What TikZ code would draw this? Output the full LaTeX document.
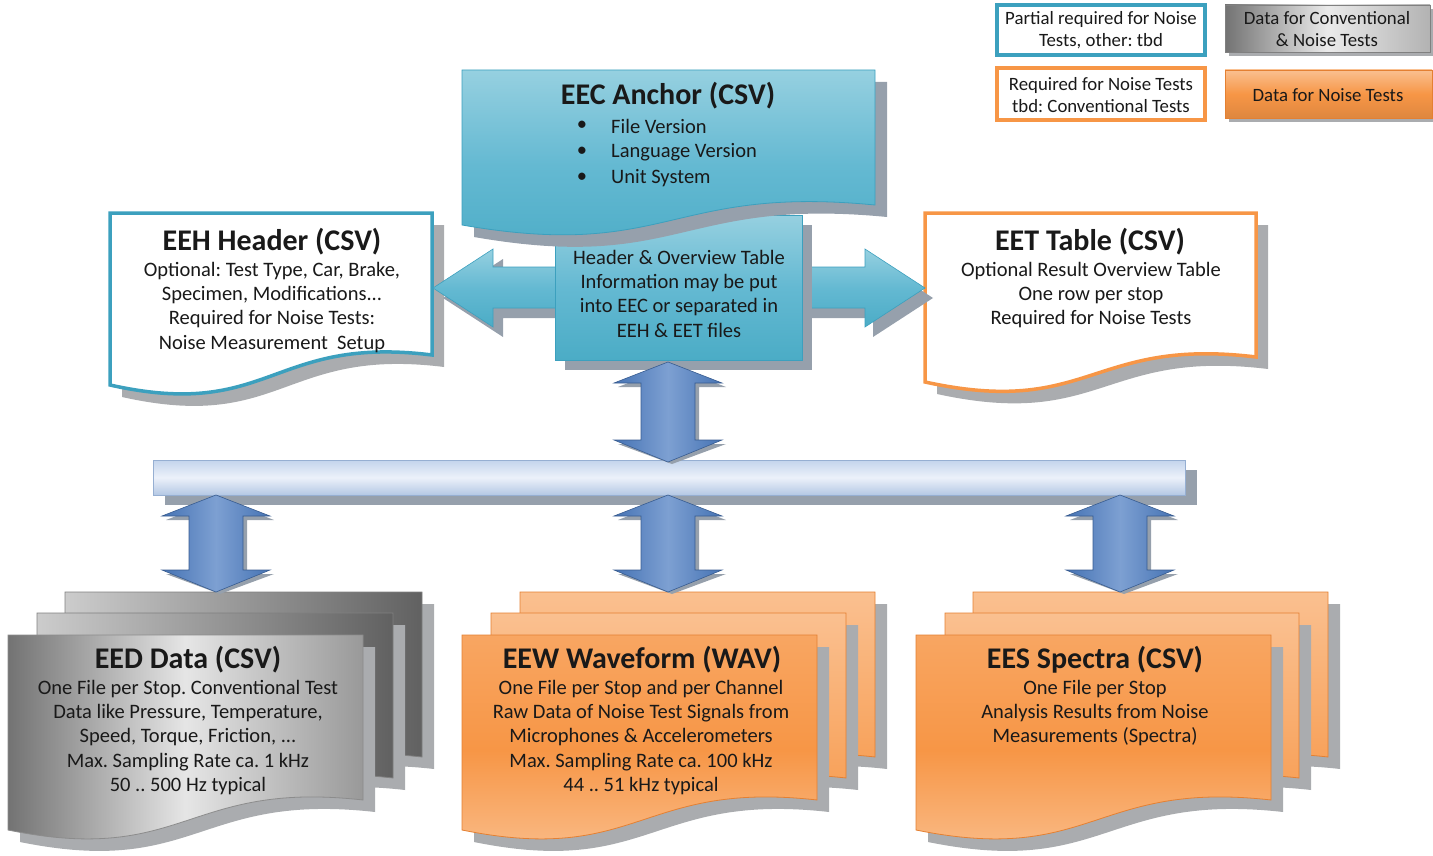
\documentclass[tikz,border=0pt]{standalone}
\usepackage{fontspec}
\setmainfont{Carlito}
\frenchspacing
\definecolor{teal0}{RGB}{75,172,198}
\definecolor{tealL}{RGB}{150,208,224}
\definecolor{tealM}{RGB}{100,185,210}
\definecolor{tealB}{RGB}{60,160,190}
\definecolor{orB}{RGB}{247,150,70}
\definecolor{orL}{RGB}{250,192,144}
\definecolor{orD}{RGB}{228,128,50}
\definecolor{blD}{RGB}{70,115,180}
\definecolor{blM}{RGB}{125,160,210}
\definecolor{shc}{RGB}{170,172,175}
\definecolor{shb}{RGB}{150,160,172}
\definecolor{barT}{RGB}{195,212,236}
\definecolor{barM}{RGB}{236,241,250}
\definecolor{barB}{RGB}{180,200,228}
\definecolor{barE}{RGB}{150,175,210}
\definecolor{txt}{RGB}{25,25,25}
\tikzset{
  tfont/.style={font=\fontsize{30}{34}\selectfont\bfseries, text=txt, inner sep=0pt},
  bfont/.style={font=\fontsize{20.5}{24.2}\selectfont, align=center, text=txt, inner sep=0pt},
  lfont/.style={font=\fontsize{18.8}{22}\selectfont, align=center, text=txt, inner sep=0pt},
  whiteteal/.style={fill=white, draw=tealB, line width=3.5pt},
  whiteorange/.style={fill=white, draw=orB, line width=3.5pt},
  tealfill/.style={top color=tealL, bottom color=teal0, middle color=tealM, draw=tealB, line width=0.8pt},
  grayfront/.style={left color=black!55, right color=black!40, middle color=black!10, draw=black!45, line width=0.8pt},
  grayback/.style={left color=black!20, right color=black!62, draw=black!50, line width=0.8pt},
  orfront/.style={top color=orB!85!white, bottom color=orL, middle color=orB, draw=orD, line width=0.8pt},
  orback/.style={top color=orL, bottom color=orB, draw=orD, line width=0.8pt},
  bluearrow/.style={left color=blD, right color=blD, middle color=blM, draw=blD!80!black, line width=0.6pt},
  tealarrow/.style={top color=tealL, bottom color=teal0, middle color=tealM, draw=tealB, line width=0.6pt},
}
% L T R Bl Br style shadowcolor
\newcommand\docshape[7]{%
  \fill[#7] ({#1+12},{#2+12}) -- ({#3+12},{#2+12}) -- ({#3+12},{#5+12}) .. controls ({(#1+#3)/2+12},{#5-20+12}) and ({(#1+#3)/2+12},{#4+36+12}) .. ({#1+12},{#4+12}) -- cycle;
  \path[#6] (#1,#2) -- (#3,#2) -- (#3,#5) .. controls ({(#1+#3)/2},{#5-20}) and ({(#1+#3)/2},{#4+36}) .. (#1,#4) -- cycle;}
% cx ytop ybot
\newcommand\vdarrow[3]{%
  \fill[shb] ({#1+4},{#2+4}) -- ({#1+54+4},{#2+21+4}) -- ({#1+27+4},{#2+21+4}) -- ({#1+27+4},{#3-22+4}) -- ({#1+54+4},{#3-22+4}) -- ({#1+4},{#3+2}) -- ({#1-54+4},{#3-22+4}) -- ({#1-27+4},{#3-22+4}) -- ({#1-27+4},{#2+21+4}) -- ({#1-54+4},{#2+21+4}) -- cycle;
  \path[bluearrow] (#1,#2) -- ({#1+54},{#2+21}) -- ({#1+27},{#2+21}) -- ({#1+27},{#3-22}) -- ({#1+54},{#3-22}) -- (#1,#3) -- ({#1-54},{#3-22}) -- ({#1-27},{#3-22}) -- ({#1-27},{#2+21}) -- ({#1-54},{#2+21}) -- cycle;}
\begin{document}
\begin{tikzpicture}[x=1pt,y=-1pt]
\useasboundingbox (0,0) rectangle (1433,856);

% ---------- legend ----------
\draw[tealB, line width=4pt, fill=white] (997,5) rectangle (1205,55);
\node[lfont] (lgA) at (1101,30) {Partial required for Noise\\Tests, other: tbd};
\fill[shc] (1229,9) rectangle (1434,56);
\path[left color=black!55, right color=black!30, middle color=black!8, draw=black!50] (1225,5) rectangle (1430,52);
\node[lfont] (lgB) at (1327,29) {Data for Conventional\\\& Noise Tests};
\draw[orB, line width=4pt, fill=white] (997,68) rectangle (1205,120);
\node[lfont] (lgC) at (1101,95) {Required for Noise Tests\\tbd: Conventional Tests};
\fill[shc] (1229,74) rectangle (1434,122);
\path[top color=orL, bottom color=orB!90!black, middle color=orB, draw=orD] (1225,70) rectangle (1432,118);
\node[lfont] (lgD) at (1328,95) {Data for Noise Tests};

% ---------- side documents ----------
\docshape{110}{213}{432}{385}{355}{whiteteal}{shc}
\node[tfont] (eehT) at (272,242) {EEH Header (CSV)};
\node[bfont, anchor=north] (eehB) at (272,262) {Optional: Test Type, Car, Brake,\\Specimen, Modifications...\\Required for Noise Tests:\\Noise Measurement\ \ Setup};

\docshape{925}{213}{1256}{382}{357}{whiteorange}{shc}
\node[tfont] (eetT) at (1090,242) {EET Table (CSV)};
\node[bfont, anchor=north] (eetB) at (1091,262) {Optional Result Overview Table\\One row per stop\\Required for Noise Tests};

% ---------- horizontal teal double arrow ----------
\fill[shb] (443,298) -- (503,259) -- (503,277) -- (873,277) -- (873,259) -- (933,298) -- (873,337) -- (873,318) -- (503,318) -- (503,337) -- cycle;
\path[tealarrow] (433,288) -- (493,249) -- (493,267) -- (865,267) -- (865,249) -- (925,288) -- (865,327) -- (865,308) -- (493,308) -- (493,327) -- cycle;

% ---------- central box ----------
\fill[shb] (565,225) rectangle (812,370);
\path[tealfill] (555,215) rectangle (802,360);
\node[bfont, anchor=north] (mid) at (679,250) {Header \& Overview Table\\Information may be put\\into EEC or separated in\\EEH \& EET files};

% ---------- EEC anchor ----------
\docshape{462}{70}{875}{225}{205}{tealfill}{shb}
\node[tfont] (eecT) at (668,96) {EEC Anchor (CSV)};
\foreach \yy/\tt [count=\i] in {126/File Version,152/Language Version,178/Unit System}{
  \node[bfont] (eecD\i) at (582,\yy) {•};
  \node[bfont, anchor=west] (eecL\i) at (611,\yy) {\tt};
}

% ---------- bar ----------
\fill[shb] (165,470) rectangle (1197,505);
\path[top color=barT, bottom color=barB, middle color=barM, draw=barE, line width=0.8pt] (153,460) rectangle (1185,495);
\coordinate (bar) at (669,477);

% ---------- bottom stacks ----------
% EED
\docshape{65}{592}{422}{787}{757}{grayback}{shc}
\docshape{37}{613}{393}{808}{778}{grayback}{shc}
\docshape{8}{635}{363}{830}{800}{grayfront}{shc}
\node[tfont] (eedT) at (188,660) {EED Data (CSV)};
\node[bfont, anchor=north] (eedB) at (188,680) {One File per Stop. Conventional Test\\Data like Pressure, Temperature,\\Speed, Torque, Friction, ...\\Max. Sampling Rate ca. 1 kHz\\50 .. 500 Hz typical};
% EEW
\docshape{520}{592}{875}{787}{757}{orback}{shc}
\docshape{491}{613}{846}{808}{778}{orback}{shc}
\docshape{462}{635}{817}{830}{800}{orfront}{shc}
\node[tfont] (eewT) at (642,660) {EEW Waveform (WAV)};
\node[bfont, anchor=north] (eewB) at (641,680) {One File per Stop and per Channel\\Raw Data of Noise Test Signals from\\Microphones \& Accelerometers\\Max. Sampling Rate ca. 100 kHz\\44 .. 51 kHz typical};
% EES
\docshape{973}{592}{1328}{787}{757}{orback}{shc}
\docshape{945}{613}{1299}{808}{778}{orback}{shc}
\docshape{916}{635}{1271}{830}{800}{orfront}{shc}
\node[tfont] (eesT) at (1095,660) {EES Spectra (CSV)};
\node[bfont, anchor=north] (eesB) at (1095,680) {One File per Stop\\Analysis Results from Noise\\Measurements (Spectra)};

% ---------- vertical blue double arrows ----------
\vdarrow{668}{362}{462}
\vdarrow{216}{495}{592}
\vdarrow{668}{495}{592}
\vdarrow{1120}{495}{592}
\end{tikzpicture}
\end{document}
